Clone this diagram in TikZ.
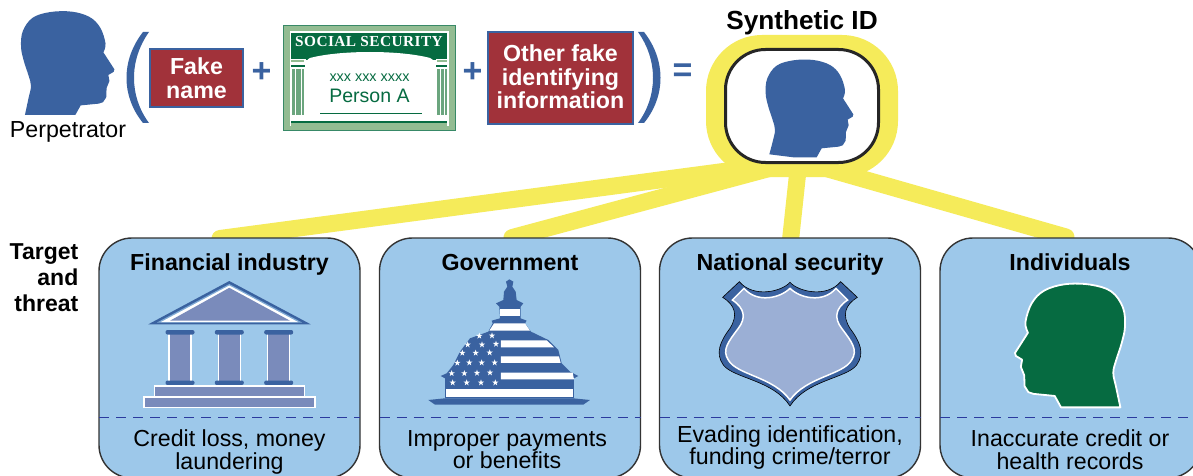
\documentclass[tikz,border=0pt]{standalone}
\usepackage{fontspec}
\setmainfont{Liberation Sans}
\newfontfamily\cardserif{Liberation Serif}[LetterSpace=3]
\usetikzlibrary{calc}
\definecolor{hblue}{HTML}{3A62A0}
\definecolor{boxblue}{HTML}{9DC8EA}
\definecolor{yel}{HTML}{F5EB5A}
\definecolor{brick}{HTML}{A1323A}
\definecolor{dgreen}{HTML}{066B41}
\definecolor{lgreen}{HTML}{93BC92}
\definecolor{mgreen}{HTML}{6BA57E}
\definecolor{slate}{HTML}{7A8BBB}
\definecolor{shieldc}{HTML}{9BAFD5}
\definecolor{navy}{HTML}{2B3A9E}
\pgfdeclarelayer{bg}
\pgfsetlayers{bg,main}
\newcommand\sq{\vphantom{Ag}}
\tikzset{
  target/.style={draw=black!80,line width=1.4pt,fill=boxblue,rounded corners=33pt,minimum width=261pt,minimum height=240pt,inner sep=0pt,outer sep=0pt},
  redbox/.style={draw=hblue,line width=1.6pt,fill=brick,text=white,inner sep=0pt,outer sep=0pt,align=center,font=\fontsize{23.2}{23.5}\selectfont\bfseries},
  ttl/.style={font=\fontsize{23.2}{25}\selectfont\bfseries,inner sep=0pt,anchor=base},
  capt/.style={font=\fontsize{23.2}{22.5}\selectfont,align=center,inner sep=0pt},
  link/.style={draw=yel,line width=17pt},
  sep/.style={draw=navy,line width=1.2pt,dash pattern=on 10pt off 7pt},
  sym/.style={text=hblue,inner sep=0pt,font=\fontsize{34}{34}\selectfont\bfseries},
}
\newcommand\headat[6][472]{%
  \path[#2,shift={(#3,#4)},xscale=#5,yscale=#6]
  plot[smooth,tension=.6] coordinates {(268,#1)(278,425)(285,390)(278,360)(265,320)(257,280)(262,235)(290,197)(340,181)(400,180)(450,195)(480,225)(495,270)(489,295)}
  -- (520,343) -- (518,350) -- (503,359) -- (506,376) -- (498,396) -- (497,422) -- (488,436) -- (476,440) -- (425,445) -- (410,472) -- (340,472) -- cycle;}
\begin{document}
\begin{tikzpicture}[x=1pt,y=-1pt]
\useasboundingbox (0,0) rectangle (1193,476);
\begin{pgfonlayer}{bg}
\fill[white] (0,0) rectangle (1193,476);
\end{pgfonlayer}
% targets
\node[target] (fin) at (229.5,358) {};
\node[target] (gov) at (510,358) {};
\node[target] (nat) at (790,358) {};
\node[target] (ind) at (1070.5,358) {};
\foreach \b in {fin,gov,nat,ind}
  \draw[sep] ($(\b.west)+(0,59.5)$) -- ($(\b.east)+(0,59.5)$);
% synthetic id
\node[draw=none,fill=yel,rounded corners=56pt,minimum width=192pt,minimum height=142pt,inner sep=0pt,outer sep=0pt] (glow) at (802,106) {};
\node[draw=black!85,line width=3pt,fill=white,rounded corners=40pt,minimum width=153pt,minimum height=113pt,inner sep=0pt,outer sep=0pt] (synth) at (802,106) {};
\begin{pgfonlayer}{bg}
\draw[link,line cap=round] ($(fin.north)+(-9.5,.5)$) -- ($(glow.south)+(-57,-8.4)$);
\draw[link,line cap=round] ($(gov.north)+(2,-.4)$) -- ($(glow.south)+(-31,-9)$);
\draw[link] ($(nat.north)+(.5,2)$) -- ($(glow.south)+(-4,-7)$);
\draw[link,line cap=round] ($(ind.north)+(-4.5,-1)$) -- ($(glow.south)+(26,-8)$);
\end{pgfonlayer}
\headat[463]{fill=hblue}{680}{0}{.3333}{.3333}
\node[ttl,font=\fontsize{26.2}{28}\selectfont\bfseries] (synthlabel) at (802,29.5) {Synthetic ID};
% perpetrator
\headat{fill=hblue}{-70.2}{-52}{.355}{.3537}
\node[inner sep=0pt,anchor=base,font=\fontsize{23.2}{24}\selectfont] (perp) at (68,138) {Perpetrator};
% parens
\fill[hblue] (143,32) .. controls (121,60) and (121,96) .. (143,123) -- (149,123) .. controls (129,96) and (129,60) .. (149,32) -- cycle;
\fill[hblue] (644,32) .. controls (666,60) and (666,96) .. (644,123) -- (638,123) .. controls (658,96) and (658,60) .. (638,32) -- cycle;
% red boxes
\node[redbox,minimum width=93pt,minimum height=58pt] (fake) at (196.5,78) {Fake\\name};
\node[redbox,minimum width=145pt,minimum height=92pt] (other) at (560.5,78) {\raisebox{2pt}{Other fake}\\\raisebox{2pt}{identifying}\\\raisebox{2pt}{information}};
\node[sym] (plus1) at (261.5,73) {+};
\node[sym] (plus2) at (472.5,73) {+};
\node[sym] (eq) at (682.5,73) {=};
% card
\draw[draw=dgreen!80,line width=1pt,fill=lgreen] (283.5,25.5) rectangle (455.5,130.5);
\fill[white] (290,31) rectangle (449,126);
\fill[dgreen] (291,33.5) rectangle (447,60);
\fill[lgreen] (291,122) rectangle (447,126);
\fill[dgreen] (291,121) rectangle (447,123.5);
\fill[white] (291,59) rectangle (306,66);
\fill[white] (436,59) rectangle (447,66);
\fill[lgreen] (291,60) rectangle (304,62);
\fill[dgreen] (291,65) rectangle (305,67);
\fill[lgreen] (437,60) rectangle (447,62);
\fill[dgreen] (436,65) rectangle (447,67);
\fill[mgreen] (292,69) rectangle (304,115);
\fill[mgreen] (437,69) rectangle (447,115);
\foreach \x in {295,301,440,444} \fill[white] (\x,69) rectangle (\x+.8,115);
\fill[white] (306,121) -- (306,68) .. controls (306,62) and (307,59) .. (310,58) .. controls (340,50) and (400,50) .. (430,58) .. controls (434,60) and (436,63) .. (436,68) -- (436,121) -- cycle;
\draw[dgreen,line width=.8pt] (320,113) -- (422,113);
\node[inner sep=0pt,text=white,font=\fontsize{15.3}{16}\selectfont\cardserif\bfseries] (ssa) at (369,41.5) {SOCIAL SECURITY};
\node[inner sep=0pt,text=dgreen,font=\fontsize{14.4}{15}\selectfont] (ssn) at (369.5,78) {xxx xxx xxxx};
\node[inner sep=0pt,text=dgreen,font=\fontsize{19.5}{21}\selectfont] (person) at (369.5,95.5) {Person A};
% side label
\node[inner sep=0pt,font=\fontsize{23}{26}\selectfont\bfseries,align=right,anchor=east] (tt) at (78.5,278) {Target\\and\\threat};
% titles
\node[ttl] (t1) at (229.5,270) {Financial industry};
\node[ttl] (t2) at (510,270) {Government};
\node[ttl] (t3) at (790,270) {National security};
\node[ttl] (t4) at (1070,270) {Individuals};
\node[capt] (c1) at (229.5,452) {\sq Credit loss, money\\\sq laundering};
\node[capt] (c2) at (507,452) {\sq Improper payments\\\sq or benefits};
\node[capt] (c3) at (790,447.5) {\sq Evading identification,\\\sq funding crime/terror};
\node[capt] (c4) at (1070,452) {\sq Inaccurate credit or\\\sq health records};
% bank
\fill[hblue] (229.3,281) -- (310.7,324.3) -- (148.3,324.3) -- cycle;
\fill[boxblue!70!hblue] (229.3,284) -- (302,322.5) -- (157,322.5) -- cycle;
\fill[white] (229.3,285.5) -- (298,322) -- (161,322) -- cycle;
\fill[slate] (229.3,287.8) -- (290,320.7) -- (170,320.7) -- cycle;
\foreach \x in {180,229.3,278.7} {
  \draw[white,line width=1.5pt,fill=slate] (\x-11,333) rectangle (\x+11,382);
  \fill[hblue,rounded corners=2pt] (\x-14.5,330) rectangle (\x+14.5,334.5);
  \fill[hblue,rounded corners=2pt] (\x-14.5,380.5) rectangle (\x+14.5,385);
}
\draw[white,line width=1.5pt,fill=slate] (154.5,386) rectangle (304.3,397);
\draw[white,line width=1.5pt,fill=slate] (143.8,397) rectangle (315,407.3);
% capitol
\begin{scope}[shift={(420,270)},x=.3333pt,y=-.3333pt]
\fill[hblue] (25,390) -- (75,385) -- (460,385) -- (510,390) -- (490,404) -- (45,404) -- cycle;
\fill[hblue] (75,385) -- (75,325) -- (62,318) -- (80,310) -- (100,285) -- (120,245) -- (150,205) -- (205,185) -- (218,160) -- (215,152) -- (240,145) -- (238,110) -- (228,100) -- (250,90) -- (252,65) -- (262,50) -- (258,35) -- (268,28) -- (280,35) -- (277,50) -- (287,65) -- (290,90) -- (310,100) -- (302,110) -- (302,145) -- (320,152) -- (315,160) -- (333,185) -- (385,210) -- (415,240) -- (425,280) -- (450,305) -- (475,318) -- (462,325) -- (462,385) -- cycle;
\fill[white] (240,118) rectangle (300,138);
\fill[white] (208,182) -- (222,160) -- (315,160) -- (330,182) -- cycle;
\fill[white] (243,211) -- (380,211) -- (402,232) -- (243,232) -- cycle;
\fill[white] (243,259) -- (417,259) -- (422,279) -- (243,279) -- cycle;
\fill[white] (243,308) -- (458,308) -- (462,328) -- (243,328) -- cycle;
\fill[white] (78,358) -- (460,358) -- (460,380) -- (78,380) -- cycle;
\foreach \p in {(178,198),(216,197),(143,224),(186,224),(228,222),(127,249),(167,249),(209,248),(112,279),(148,278),(185,278),(224,278),(95,310),(133,310),(171,309),(210,308),(98,338),(140,338),(183,338),(226,338)}
  \fill[white,shift={\p},scale=1.4] (0,-7) -- (1.6,-2.2) -- (6.7,-2.2) -- (2.6,.8) -- (4.1,5.7) -- (0,2.7) -- (-4.1,5.7) -- (-2.6,.8) -- (-6.7,-2.2) -- (-1.6,-2.2) -- cycle;
\end{scope}
% shield
\begin{scope}[shift={(710,270)},x=.3333pt,y=-.3333pt]
\draw[black,line width=.6pt,fill=hblue] (240,37) .. controls (265,65) and (350,85) .. (392,35) -- (442,82) .. controls (405,105) and (395,135) .. (420,175) .. controls (450,215) and (465,250) .. (440,285) .. controls (410,325) and (290,330) .. (240,408) .. controls (190,330) and (70,325) .. (40,285) .. controls (15,250) and (30,215) .. (60,175) .. controls (85,135) and (75,105) .. (38,82) -- (88,35) .. controls (130,85) and (215,65) .. (240,37) -- cycle;
\draw[white,line width=1.5pt,fill=shieldc] (240,55) .. controls (270,85) and (340,100) .. (378,55) -- (413,90) .. controls (375,115) and (372,145) .. (395,175) .. controls (425,215) and (445,240) .. (425,270) .. controls (400,315) and (290,320) .. (240,390) .. controls (190,320) and (80,315) .. (55,270) .. controls (35,240) and (55,215) .. (85,175) .. controls (108,145) and (105,115) .. (67,90) -- (102,55) .. controls (140,100) and (210,85) .. (240,55) -- cycle;
\end{scope}
% green head
\headat{fill=dgreen,draw=white,line width=1.8pt,line join=round}{1232.5}{208.3}{-.4183}{.4217}
\end{tikzpicture}
\end{document}
